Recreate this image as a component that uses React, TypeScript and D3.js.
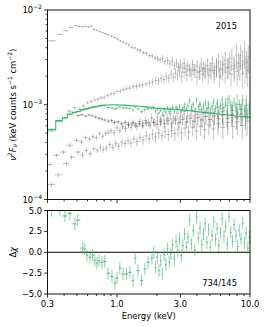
import React from 'react';
import * as d3 from 'd3';

// ---- data (flux values in units of 1e-4 keV counts s^-1 cm^-2, errors in %) ----
// [energy keV, flux, relErr%]
const grayHigh: [number, number, number][] = [
  [0.325,47.3,1.5],[0.376,55.3,1.5],[0.413,60.4,1.5],[0.448,65.6,1.5],[0.49,68.3,1.5],[0.52,67.0,2],[0.55,66.6,2],[0.58,67.2,2],[0.61,66.2,2],[0.64,67.5,2],[0.67,62.5,2],[0.70,61.0,2],[0.74,59.2,2],[0.78,57.8,2],[0.82,56.0,2.5],[0.86,54.8,2.5],[0.91,53.0,2.5],[0.96,51.2,2.5],[1.01,49.5,3],[1.06,47.2,3],[1.11,46.0,3],[1.17,44.2,3],[1.23,42.8,3.5],[1.29,40.5,3.5],[1.36,39.8,4],[1.43,38.0,4],[1.50,37.2,4],[1.58,35.5,4.5],[1.66,34.8,5],[1.75,33.0,5],[1.84,32.8,5.5],[1.93,31.2,6],[2.02,30.5,7],[2.11,29.8,7],[2.2,31.0,8],[2.3,28.5,8],[2.4,29.2,9],[2.5,27.0,9],[2.6,28.8,10],[2.7,26.0,10],[2.8,27.5,11],[2.9,25.2,11],[3.0,26.8,12],[3.1,24.5,12],[3.2,27.2,13],[3.3,24.0,13],[3.4,25.8,14],[3.55,23.0,14],[3.7,26.5,15],[3.85,23.5,15],[4.0,25.5,16],[4.15,22.0,17],[4.3,27.0,17],[4.45,24.0,18],[4.6,22.5,18],[4.8,26.0,19],[5.0,23.5,20],[5.2,27.5,20],[5.4,23.0,21],[5.6,25.5,22],[5.8,28.5,22],[6.0,24.0,23],[6.25,26.5,24],[6.5,29.5,24],[6.75,24.5,25],[7.0,28.0,26],[7.3,31.0,26],[7.6,26.0,27],[7.9,33.5,28],[8.2,27.5,28],[8.5,33.0,29],[8.8,29.0,30],[9.1,36.0,30],[9.4,28.0,32],[9.7,32.0,33],
];

const grayMid: [number, number, number][] = [
  [0.44,8.6,4],[0.48,9.3,4],[0.52,9.0,4],[0.56,9.7,4],[0.60,10.5,4],[0.64,10.8,4],[0.68,11.2,4],[0.72,11.5,4],[0.76,11.8,4.5],[0.80,12.0,4.5],[0.85,12.5,4.5],[0.90,13.0,5],[0.95,13.2,5],[1.00,13.8,5],[1.06,14.0,5],[1.12,14.5,5.5],[1.18,14.8,5.5],[1.25,15.0,6],[1.32,15.5,6],[1.40,15.6,6.5],[1.48,16.0,7],[1.56,16.2,7],[1.65,16.6,7.5],[1.75,17.0,8],[1.85,17.4,8.5],[1.95,18.0,9],[2.05,17.8,9.5],[2.15,19.0,10],[2.25,18.5,10],[2.35,20.0,11],[2.45,19.2,11],[2.55,21.0,12],[2.65,19.5,12],[2.75,21.5,13],[2.85,20.5,13],[2.95,22.5,14],[3.05,19.8,14],[3.2,22.0,15],[3.35,20.5,15],[3.5,23.5,16],[3.65,21.0,16],[3.8,23.0,17],[4.0,19.5,18],[4.2,22.5,18],[4.4,21.0,19],[4.6,24.0,20],[4.85,20.5,20],[5.1,23.0,21],[5.35,21.5,22],[5.6,24.5,22],[5.9,20.0,23],[6.2,23.5,24],[6.5,22.0,25],[6.85,25.0,26],[7.2,21.0,27],[7.6,24.0,28],[8.0,22.5,29],[8.4,25.5,30],[8.8,21.5,31],[9.2,24.5,32],[9.6,23.0,33],
];

const grayLowUpper: [number, number, number][] = [
  [0.312,2.34,5],[0.351,2.92,5],[0.395,3.17,5],[0.441,3.73,5],[0.496,4.21,5],[0.54,4.05,5.5],[0.58,4.5,5.5],[0.62,4.35,5.5],[0.66,4.6,6],[0.70,4.5,6],[0.74,4.95,6],[0.78,4.65,6.5],[0.82,5.0,6.5],[0.86,5.1,6.5],[0.90,5.3,7],[0.95,5.05,7],[1.0,5.7,7],[1.05,5.35,7.5],[1.10,5.85,7.5],[1.16,5.6,8],[1.22,6.1,8],[1.28,5.8,8.5],[1.34,6.45,8.5],[1.41,5.9,9],[1.48,6.65,9],[1.56,6.3,9.5],[1.64,6.8,10],[1.73,6.5,10],[1.82,7.25,11],[1.92,6.55,11],[2.02,7.4,12],[2.13,6.9,12],[2.25,7.65,13],[2.38,7.1,13],[2.52,8.0,14],[2.67,7.2,14],[2.83,8.15,15],[3.0,7.5,15],[3.2,8.45,16],[3.4,7.6,17],[3.65,8.75,17],[3.9,7.85,18],[4.2,8.85,19],[4.5,8.1,20],[4.85,9.25,20],[5.25,8.2,21],[5.7,9.45,22],[6.2,8.45,23],[6.75,9.85,24],[7.35,8.65,25],[8.0,10.1,26],[8.7,8.95,27],[9.4,9.9,28],
];

const grayLowLower: [number, number, number][] = [
  [0.321,1.44,6],[0.361,1.82,6],[0.417,2.39,6],[0.455,2.8,6],[0.511,3.17,6],[0.55,2.95,6.5],[0.59,3.3,6.5],[0.63,3.05,7],[0.67,3.45,7],[0.71,3.3,7],[0.75,3.55,7.5],[0.79,3.35,7.5],[0.83,3.5,8],[0.88,3.8,8],[0.93,3.55,8],[0.98,3.9,8.5],[1.03,3.65,8.5],[1.09,4.05,9],[1.15,3.9,9],[1.21,4.15,9.5],[1.27,3.95,10],[1.34,4.35,10],[1.41,4.1,10.5],[1.49,4.5,11],[1.57,4.25,11],[1.66,4.7,12],[1.75,4.4,12],[1.85,4.9,13],[1.95,4.55,13],[2.06,5.05,14],[2.18,4.7,14],[2.3,5.2,15],[2.43,4.85,15],[2.57,5.35,16],[2.72,4.95,16],[2.88,5.5,17],[3.05,5.05,17],[3.25,5.65,18],[3.45,5.15,19],[3.7,5.8,19],[3.95,5.3,20],[4.25,5.95,21],[4.55,5.45,21],[4.9,6.1,22],[5.3,5.55,23],[5.75,6.3,24],[6.25,5.75,25],[6.8,6.5,26],[7.4,5.9,27],[8.05,6.6,28],[8.75,6.05,29],[9.5,6.7,30],
];

const grayDark: [number, number, number][] = [
  [0.51,7.7,3],[0.545,7.85,3],[0.58,7.6,3],[0.615,7.8,3],[0.65,7.65,3],[0.69,7.4,3.5],[0.73,7.2,3.5],[0.77,7.05,4],[0.81,6.9,4],[0.86,6.7,4.5],[0.91,6.8,4.5],[0.96,6.5,5],[1.02,6.6,5],[1.08,6.3,5.5],[1.15,6.5,6],[1.22,6.2,6],[1.3,6.4,6.5],[1.38,6.1,7],[1.47,6.3,7],[1.56,6.0,7.5],[1.66,6.4,8],[1.77,6.1,8.5],[1.88,6.5,9],[2.0,6.2,9.5],[2.13,6.6,10],[2.27,6.3,10.5],[2.42,6.8,11],[2.58,6.4,12],[2.75,6.9,12],[2.93,6.5,13],[3.12,7.0,14],[3.33,6.6,14],[3.55,7.2,15],[3.8,6.7,16],[4.05,7.3,17],[4.35,6.9,17],[4.65,7.5,18],[5.0,7.0,19],[5.4,7.6,20],[5.8,7.1,21],[6.25,7.8,22],[6.75,7.2,23],[7.3,7.9,24],[7.9,7.3,25],[8.55,8.0,26],[9.25,7.5,27],
];

// green dataset: [energy keV, model, flux, relErr%, residual Δχ]
const green: [number, number, number, number, number][] = [
  [0.322,5.5,5.3,2,5.0],[0.372,6.8,6.65,2,5.1],[0.405,7.3,7.2,2,4.35],[0.441,8.0,7.95,2,4.65],[0.482,8.3,8.25,2,3.4],[0.506,8.5,8.45,2,3.85],
  [0.553,8.8,8.85,2,0.5],[0.573,9.0,9.05,2,0.4],[0.594,9.1,9.05,2,-0.35],[0.626,9.3,9.2,2,-0.6],[0.656,9.45,9.38,2,-0.35],[0.681,9.55,9.45,2,-0.95],
  [0.706,9.65,9.52,2,-1.3],[0.732,9.75,9.62,2,-1.0],[0.771,9.85,9.74,2,-1.2],[0.808,9.9,9.8,2,-1.1],[0.855,9.95,9.35,2.5,-2.5],[0.916,10.0,9.25,2.5,-2.9],
  [0.965,10.0,9.05,2.5,-3.7],[1.0,9.98,9.18,2.5,-3.1],[1.05,9.95,9.5,2.5,-1.9],[1.11,9.9,9.26,2.5,-2.6],[1.18,9.85,9.21,2.5,-2.6],[1.25,9.8,9.09,3,-2.4],
  [1.32,9.75,8.76,3,-3.4],[1.37,9.7,9.5,3,-0.7],[1.44,9.65,9.01,3,-2.2],[1.53,9.6,8.46,3.5,-3.4],[1.62,9.5,8.84,3.5,-2.0],[1.71,9.45,9.05,3.5,-1.2],
  [1.83,9.4,9.14,4,-0.7],[1.89,9.3,9.3,4,0.0],[1.95,9.2,8.45,4.5,-1.8],[2.01,9.2,8.95,4.5,-0.6],[2.07,9.15,8.24,4.5,-2.2],[2.13,9.15,8.74,4.5,-1.0],
  [2.19,9.1,7.92,5,-2.6],[2.26,9.1,8.96,5,-0.3],[2.33,9.05,8.37,5,-1.5],[2.4,9.05,9.23,5,0.4],[2.47,9.0,8.46,5,-1.2],[2.54,9.0,8.91,5,-0.2],
  [2.62,8.95,9.39,5.5,0.9],[2.7,8.95,8.56,5.5,-0.8],[2.78,8.9,9.54,5.5,1.3],[2.86,8.9,9.0,5.5,0.2],[2.95,8.85,9.63,5.5,1.6],[3.04,8.8,8.57,6.5,-0.4],
  [3.13,8.8,9.26,6.5,0.8],[3.22,8.75,10.0,6.5,2.2],[3.32,8.7,9.04,6.5,0.6],[3.42,8.7,9.72,6.5,1.8],[3.52,8.65,11.0,7,3.9],[3.63,8.6,9.2,7,1.0],
  [3.74,8.55,10.1,7,2.6],[3.85,8.5,8.68,7,0.3],[3.97,8.5,11.2,7.5,4.2],[4.09,8.45,9.53,7.5,1.7],[4.21,8.4,10.23,7.5,2.9],[4.34,8.35,8.91,7.5,0.9],
  [4.47,8.3,9.76,8,2.2],[4.6,8.3,10.56,8,3.4],[4.74,8.25,9.04,8,1.2],[4.88,8.2,9.97,8,2.7],[5.03,8.15,8.59,9,0.6],[5.18,8.1,9.56,9,2.0],
  [5.34,8.1,10.7,9,3.6],[5.5,8.05,9.14,9,1.5],[5.66,8.0,10.24,10,2.8],[5.83,8.0,8.64,10,0.8],[6.0,7.95,9.78,10,2.3],[6.18,7.9,11.06,10,4.0],
  [6.37,7.9,9.4,10,1.9],[6.56,7.85,10.53,11,3.1],[6.76,7.8,8.66,11,1.0],[6.96,7.75,11.42,11,4.3],[7.17,7.75,9.98,12,2.4],[7.38,7.7,8.9,12,1.3],
  [7.6,7.65,10.68,12,3.3],[7.83,7.6,9.42,12,2.0],[8.07,7.6,8.29,13,0.7],[8.31,7.55,10.1,13,2.6],[8.56,7.5,9.06,13,1.6],[8.82,7.5,11.18,14,3.5],
  [9.08,7.45,8.6,14,1.1],[9.35,7.45,10.02,15,2.3],[9.63,7.4,7.96,15,0.5],[9.9,7.4,9.4,15,1.8],
];
const residualErr = 0.75;

const xMajor = [0.3, 1, 3, 10];
const xMajorLabels = ['0.3', '1.0', '3.0', '10.0'];
const xMinor = [0.4, 0.5, 0.6, 0.7, 0.8, 0.9, 2, 4, 5, 6, 7, 8, 9];
const yTopMajor = [1e-4, 1e-3, 1e-2];
const yTopMajorExp = ['−4', '−3', '−2'];
const yTopMinor = [2e-4, 3e-4, 4e-4, 5e-4, 6e-4, 7e-4, 8e-4, 9e-4, 2e-3, 3e-3, 4e-3, 5e-3, 6e-3, 7e-3, 8e-3, 9e-3];
const yResTicks = [-5, -2.5, 0, 2.5, 5];
const yResLabels = ['−5.0', '−2.5', '0.0', '2.5', '5.0'];

// ---- layout ----
const W = 266, H = 327;
const X0 = 47.5, X1 = 250;
const T0 = 10, T1 = 199.5;
const B0 = 210.5, B1 = 294;
const FONT = 'DejaVu Sans';
const FS = 8.4;
const GREEN = '#3cb371';

const x = d3.scaleLog().domain([0.3, 10]).range([X0, X1]);
const yTop = d3.scaleLog().domain([1e-4, 1e-2]).range([T1, T0]);
const yRes = d3.scaleLinear().domain([-5, 5]).range([B1, B0]);

function binEdges(es: number[]): [number, number][] {
  return es.map((e, i) => {
    const hi = i < es.length - 1 ? Math.sqrt(e * es[i + 1]) : (e * e) / Math.sqrt(es[i - 1] * e);
    const lo = i > 0 ? Math.sqrt(es[i - 1] * e) : (e * e) / Math.sqrt(e * es[i + 1]);
    return [lo, hi];
  });
}

function GraySeries({ data, color, opacity }: { data: [number, number, number][]; color: string; opacity: number }) {
  const edges = binEdges(data.map((d) => d[0]));
  return (
    <g stroke={color} strokeOpacity={opacity} strokeWidth={0.8} fill="none">
      {data.map((d, i) => {
        const v = d[1] * 1e-4;
        const r = d[2] / 100;
        const cx = x(d[0]);
        return (
          <g key={i}>
            <line x1={cx} x2={cx} y1={yTop(v * (1 - r))} y2={yTop(v * (1 + r))} />
            <line x1={x(edges[i][0])} x2={x(edges[i][1])} y1={yTop(v)} y2={yTop(v)} />
          </g>
        );
      })}
    </g>
  );
}

export default function App() {
  const gE = green.map((d) => d[0]);
  const gEdges = binEdges(gE);
  const stepPts: [number, number][] = green.map((d, i) => [gEdges[i][0], d[1] * 1e-4]);
  stepPts.push([gEdges[green.length - 1][1], green[green.length - 1][1] * 1e-4]);
  const stepLine = d3
    .line<[number, number]>()
    .x((d) => x(d[0]))
    .y((d) => yTop(d[1]))
    .curve(d3.curveStepAfter)(stepPts) as string;

  const tickLen = 3.5, minorLen = 2;

  const xTicks = (yBase: number, withLabels: boolean) => (
    <g stroke="#000" strokeWidth={0.8}>
      {xMajor.map((t, i) => (
        <g key={'M' + i}>
          <line x1={x(t)} x2={x(t)} y1={yBase} y2={yBase + tickLen} />
          {withLabels && (
            <text x={x(t)} y={yBase + 12.5} textAnchor="middle" stroke="none" fill="#000" fontSize={FS}>
              {xMajorLabels[i]}
            </text>
          )}
        </g>
      ))}
      {xMinor.map((t, i) => (
        <line key={'m' + i} x1={x(t)} x2={x(t)} y1={yBase} y2={yBase + minorLen} />
      ))}
    </g>
  );

  return (
    <svg width={W} height={H} style={{ position: 'absolute', left: 0, top: 0 }} fontFamily={FONT}>
      <rect x={0} y={0} width={W} height={H} fill="#fff" />
      <defs>
        <clipPath id="clipTop">
          <rect x={X0} y={T0} width={X1 - X0} height={T1 - T0} />
        </clipPath>
        <clipPath id="clipBot">
          <rect x={X0} y={B0} width={X1 - X0} height={B1 - B0} />
        </clipPath>
      </defs>

      {/* top panel data */}
      <g clipPath="url(#clipTop)">
        <GraySeries data={grayHigh} color="#666" opacity={0.5} />
        <GraySeries data={grayMid} color="#666" opacity={0.45} />
        <GraySeries data={grayLowUpper} color="#555" opacity={0.45} />
        <GraySeries data={grayLowLower} color="#555" opacity={0.45} />
        <GraySeries data={grayDark} color="#333" opacity={0.5} />
        <g stroke={GREEN} strokeOpacity={0.7} strokeWidth={0.9}>
          {green.map((d, i) => {
            const v = d[2] * 1e-4;
            const r = d[3] / 100;
            const cx = x(d[0]);
            return (
              <g key={i}>
                <line x1={cx} x2={cx} y1={yTop(v * (1 - r))} y2={yTop(v * (1 + r))} />
                <line x1={x(gEdges[i][0])} x2={x(gEdges[i][1])} y1={yTop(v)} y2={yTop(v)} />
              </g>
            );
          })}
        </g>
        <path d={stepLine} fill="none" stroke={GREEN} strokeWidth={1.1} />
      </g>

      {/* residual panel data */}
      <g clipPath="url(#clipBot)">
        <line x1={X0} x2={X1} y1={yRes(0)} y2={yRes(0)} stroke="#000" strokeWidth={1} />
        <g stroke={GREEN} strokeWidth={1}>
          {green.map((d, i) => {
            const cx = x(d[0]);
            const r = d[4];
            return (
              <g key={i}>
                <line x1={cx} x2={cx} y1={yRes(r - residualErr)} y2={yRes(r + residualErr)} strokeOpacity={0.6} />
                <line x1={x(gEdges[i][0])} x2={x(gEdges[i][1])} y1={yRes(r)} y2={yRes(r)} strokeOpacity={0.85} />
              </g>
            );
          })}
        </g>
      </g>

      {/* spines */}
      <g stroke="#111" strokeWidth={1} fill="none">
        <rect x={X0} y={T0} width={X1 - X0} height={T1 - T0} />
        <rect x={X0} y={B0} width={X1 - X0} height={B1 - B0} />
      </g>

      {/* top y ticks */}
      <g stroke="#000" strokeWidth={0.8}>
        {yTopMajor.map((t, i) => (
          <g key={i}>
            <line x1={X0 - tickLen} x2={X0} y1={yTop(t)} y2={yTop(t)} />
            <text x={X0 - 5.5} y={yTop(t) + 3} textAnchor="end" stroke="none" fill="#000" fontSize={FS}>
              10
              <tspan dy={-3.8} fontSize={6}>
                {yTopMajorExp[i]}
              </tspan>
            </text>
          </g>
        ))}
        {yTopMinor.map((t, i) => (
          <line key={i} x1={X0 - minorLen} x2={X0} y1={yTop(t)} y2={yTop(t)} />
        ))}
      </g>
      {xTicks(T1, false)}

      {/* residual ticks */}
      <g stroke="#000" strokeWidth={0.8}>
        {yResTicks.map((t, i) => (
          <g key={i}>
            <line x1={X0 - tickLen} x2={X0} y1={yRes(t)} y2={yRes(t)} />
            <text x={X0 - 5.5} y={yRes(t) + 3} textAnchor="end" stroke="none" fill="#000" fontSize={FS}>
              {yResLabels[i]}
            </text>
          </g>
        ))}
      </g>
      {xTicks(B1, true)}

      {/* labels */}
      <text x={(X0 + X1) / 2} y={318.5} textAnchor="middle" fontSize={FS} fill="#000">
        Energy (keV)
      </text>
      <text transform={`translate(15.5,${(T0 + T1) / 2}) rotate(-90)`} textAnchor="middle" fontSize={FS} fill="#000">
        <tspan fontStyle="italic">ν</tspan>
        <tspan dy={-3.3} fontSize={6}>2</tspan>
        <tspan dy={3.3} fontStyle="italic">F</tspan>
        <tspan dy={1.8} fontSize={6} fontStyle="italic">ν</tspan>
        <tspan dy={-1.8}> (keV counts s</tspan>
        <tspan dy={-3.3} fontSize={6}>−1</tspan>
        <tspan dy={3.3}> cm</tspan>
        <tspan dy={-3.3} fontSize={6}>−2</tspan>
        <tspan dy={3.3}>)</tspan>
      </text>
      <text transform={`translate(15.5,${yRes(0)}) rotate(-90)`} textAnchor="middle" fontSize={FS} fill="#000">
        Δ<tspan fontStyle="italic">χ</tspan>
      </text>
      <text x={237} y={29} textAnchor="end" fontSize={FS} fill="#000">
        2015
      </text>
      <text x={237} y={286} textAnchor="end" fontSize={FS} fill="#000">
        734/145
      </text>
    </svg>
  );
}
